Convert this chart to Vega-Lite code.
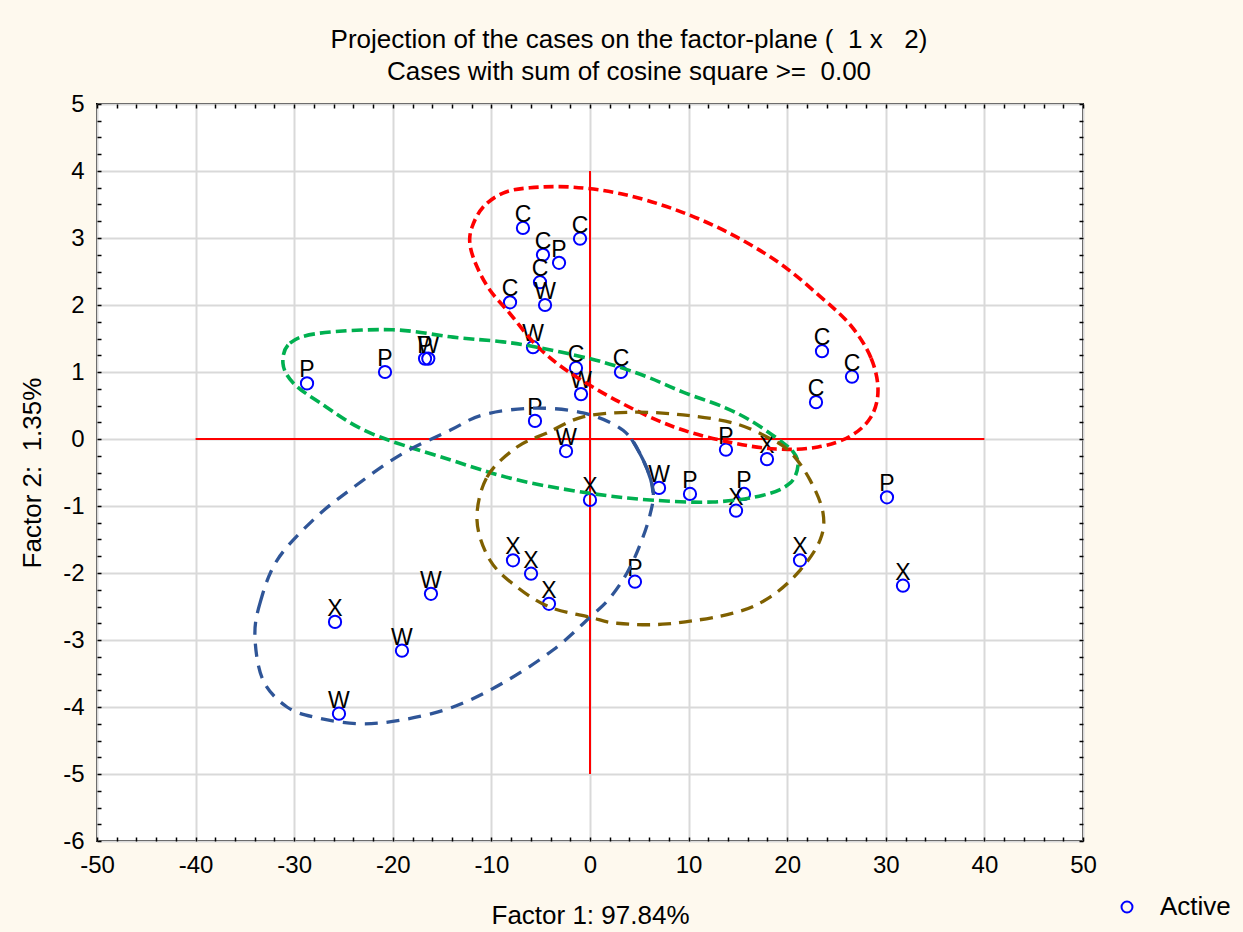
{
  "$schema": "https://vega.github.io/schema/vega-lite/v6.json",
  "width": 986,
  "height": 737,
  "autosize": "none",
  "padding": {"left": 97, "top": 104, "right": 160, "bottom": 91},
  "background": "#FEF9EE",
  "config": {
    "font": "Liberation Sans",
    "view": {"fill": "white", "stroke": "black", "strokeWidth": 2}
  },
  "title": {
    "text": ["Projection of the cases on the factor-plane (\u00a0\u00a01 x\u00a0\u00a0\u00a02)", "Cases with sum of cosine square >=\u00a0\u00a00.00"],
    "fontSize": 26,
    "fontWeight": "normal",
    "font": "Liberation Sans",
    "color": "black",
    "anchor": "middle",
    "dx": 39,
    "offset": 7,
    "lineHeight": 32
  },
  "datasets": {
    "pts": [
      {"lab": "P", "x": -28.70, "y": 0.83, "status": "Active"},
      {"lab": "P", "x": -20.79, "y": 1.00, "status": "Active"},
      {"lab": "P", "x": -16.73, "y": 1.20, "status": "Active"},
      {"lab": "W", "x": -16.40, "y": 1.20, "status": "Active"},
      {"lab": "C", "x": -6.80, "y": 3.15, "status": "Active"},
      {"lab": "C", "x": -1.01, "y": 2.99, "status": "Active"},
      {"lab": "C", "x": -4.77, "y": 2.75, "status": "Active"},
      {"lab": "P", "x": -3.14, "y": 2.63, "status": "Active"},
      {"lab": "C", "x": -5.07, "y": 2.34, "status": "Active"},
      {"lab": "C", "x": -8.11, "y": 2.04, "status": "Active"},
      {"lab": "W", "x": -4.56, "y": 2.00, "status": "Active"},
      {"lab": "W", "x": -5.78, "y": 1.37, "status": "Active"},
      {"lab": "C", "x": -1.42, "y": 1.06, "status": "Active"},
      {"lab": "W", "x": -0.91, "y": 0.67, "status": "Active"},
      {"lab": "C", "x": 3.14, "y": 1.00, "status": "Active"},
      {"lab": "P", "x": -5.58, "y": 0.27, "status": "Active"},
      {"lab": "W", "x": -2.43, "y": -0.18, "status": "Active"},
      {"lab": "X", "x": 0.00, "y": -0.91, "status": "Active"},
      {"lab": "W", "x": 7.00, "y": -0.73, "status": "Active"},
      {"lab": "P", "x": 10.14, "y": -0.82, "status": "Active"},
      {"lab": "P", "x": 13.79, "y": -0.16, "status": "Active"},
      {"lab": "X", "x": 17.95, "y": -0.30, "status": "Active"},
      {"lab": "P", "x": 15.62, "y": -0.82, "status": "Active"},
      {"lab": "X", "x": 14.81, "y": -1.07, "status": "Active"},
      {"lab": "C", "x": 23.53, "y": 1.31, "status": "Active"},
      {"lab": "C", "x": 26.57, "y": 0.93, "status": "Active"},
      {"lab": "C", "x": 22.92, "y": 0.55, "status": "Active"},
      {"lab": "P", "x": 30.12, "y": -0.87, "status": "Active"},
      {"lab": "X", "x": 21.30, "y": -1.81, "status": "Active"},
      {"lab": "X", "x": 31.74, "y": -2.19, "status": "Active"},
      {"lab": "P", "x": 4.56, "y": -2.13, "status": "Active"},
      {"lab": "X", "x": -7.81, "y": -1.81, "status": "Active"},
      {"lab": "X", "x": -5.98, "y": -2.01, "status": "Active"},
      {"lab": "X", "x": -4.16, "y": -2.46, "status": "Active"},
      {"lab": "W", "x": -16.13, "y": -2.31, "status": "Active"},
      {"lab": "X", "x": -25.86, "y": -2.73, "status": "Active"},
      {"lab": "W", "x": -19.07, "y": -3.16, "status": "Active"},
      {"lab": "W", "x": -25.46, "y": -4.10, "status": "Active"}
    ],
    "ref": [
      {"x": 0, "x2": 0, "y": -5, "y2": 4},
      {"x": -40, "x2": 40, "y": 0, "y2": 0}
    ],
    "ell": [
      {"g": "red", "i": 0, "x": 29.21, "y": 0.73},
      {"g": "red", "i": 1, "x": 28.50, "y": 1.21},
      {"g": "red", "i": 2, "x": 26.47, "y": 1.69},
      {"g": "red", "i": 3, "x": 23.33, "y": 2.13},
      {"g": "red", "i": 4, "x": 19.07, "y": 2.64},
      {"g": "red", "i": 5, "x": 13.89, "y": 3.09},
      {"g": "red", "i": 6, "x": 8.52, "y": 3.43},
      {"g": "red", "i": 7, "x": 3.14, "y": 3.66},
      {"g": "red", "i": 8, "x": -1.83, "y": 3.76},
      {"g": "red", "i": 9, "x": -6.09, "y": 3.75},
      {"g": "red", "i": 10, "x": -8.82, "y": 3.67},
      {"g": "red", "i": 11, "x": -10.85, "y": 3.46},
      {"g": "red", "i": 12, "x": -11.97, "y": 3.16},
      {"g": "red", "i": 13, "x": -12.17, "y": 2.90},
      {"g": "red", "i": 14, "x": -11.46, "y": 2.57},
      {"g": "red", "i": 15, "x": -10.14, "y": 2.22},
      {"g": "red", "i": 16, "x": -8.11, "y": 1.87},
      {"g": "red", "i": 17, "x": -5.38, "y": 1.39},
      {"g": "red", "i": 18, "x": -2.03, "y": 0.99},
      {"g": "red", "i": 19, "x": 3.14, "y": 0.54},
      {"g": "red", "i": 20, "x": 8.52, "y": 0.18},
      {"g": "red", "i": 21, "x": 13.89, "y": -0.04},
      {"g": "red", "i": 22, "x": 18.86, "y": -0.15},
      {"g": "red", "i": 23, "x": 23.12, "y": -0.12},
      {"g": "red", "i": 24, "x": 26.37, "y": 0.04},
      {"g": "red", "i": 25, "x": 28.50, "y": 0.33},
      {"g": "green", "i": 0, "x": -31.14, "y": 1.13},
      {"g": "green", "i": 1, "x": -30.43, "y": 1.43},
      {"g": "green", "i": 2, "x": -27.38, "y": 1.58},
      {"g": "green", "i": 3, "x": -19.98, "y": 1.63},
      {"g": "green", "i": 4, "x": -13.89, "y": 1.52},
      {"g": "green", "i": 5, "x": -8.82, "y": 1.45},
      {"g": "green", "i": 6, "x": -5.38, "y": 1.37},
      {"g": "green", "i": 7, "x": -0.30, "y": 1.21},
      {"g": "green", "i": 8, "x": 3.04, "y": 1.07},
      {"g": "green", "i": 9, "x": 6.09, "y": 0.91},
      {"g": "green", "i": 10, "x": 9.43, "y": 0.70},
      {"g": "green", "i": 11, "x": 13.49, "y": 0.48},
      {"g": "green", "i": 12, "x": 16.23, "y": 0.28},
      {"g": "green", "i": 13, "x": 18.97, "y": 0.01},
      {"g": "green", "i": 14, "x": 20.59, "y": -0.19},
      {"g": "green", "i": 15, "x": 21.10, "y": -0.39},
      {"g": "green", "i": 16, "x": 20.28, "y": -0.66},
      {"g": "green", "i": 17, "x": 17.55, "y": -0.84},
      {"g": "green", "i": 18, "x": 12.47, "y": -0.94},
      {"g": "green", "i": 19, "x": 6.09, "y": -0.91},
      {"g": "green", "i": 20, "x": 0.00, "y": -0.81},
      {"g": "green", "i": 21, "x": -7.40, "y": -0.61},
      {"g": "green", "i": 22, "x": -14.20, "y": -0.31},
      {"g": "green", "i": 23, "x": -22.31, "y": 0.09},
      {"g": "green", "i": 24, "x": -27.38, "y": 0.54},
      {"g": "green", "i": 25, "x": -30.12, "y": 0.84},
      {"g": "blue", "i": 0, "x": -33.98, "y": -2.96},
      {"g": "blue", "i": 1, "x": -33.47, "y": -2.45},
      {"g": "blue", "i": 2, "x": -31.74, "y": -1.81},
      {"g": "blue", "i": 3, "x": -28.09, "y": -1.21},
      {"g": "blue", "i": 4, "x": -24.34, "y": -0.76},
      {"g": "blue", "i": 5, "x": -19.27, "y": -0.24},
      {"g": "blue", "i": 6, "x": -14.20, "y": 0.13},
      {"g": "blue", "i": 7, "x": -10.85, "y": 0.36},
      {"g": "blue", "i": 8, "x": -5.78, "y": 0.46},
      {"g": "blue", "i": 9, "x": -0.71, "y": 0.39},
      {"g": "blue", "i": 10, "x": 3.35, "y": 0.13},
      {"g": "blue", "i": 11, "x": 5.38, "y": -0.31},
      {"g": "blue", "i": 12, "x": 6.39, "y": -0.76},
      {"g": "blue", "i": 13, "x": 6.09, "y": -1.13},
      {"g": "blue", "i": 14, "x": 5.07, "y": -1.58},
      {"g": "blue", "i": 15, "x": 3.75, "y": -2.00},
      {"g": "blue", "i": 16, "x": 2.03, "y": -2.37},
      {"g": "blue", "i": 17, "x": 0.00, "y": -2.66},
      {"g": "blue", "i": 18, "x": -3.75, "y": -3.15},
      {"g": "blue", "i": 19, "x": -8.82, "y": -3.64},
      {"g": "blue", "i": 20, "x": -13.89, "y": -4.00},
      {"g": "blue", "i": 21, "x": -18.97, "y": -4.19},
      {"g": "blue", "i": 22, "x": -23.33, "y": -4.25},
      {"g": "blue", "i": 23, "x": -27.69, "y": -4.16},
      {"g": "blue", "i": 24, "x": -30.73, "y": -4.00},
      {"g": "blue", "i": 25, "x": -33.16, "y": -3.60},
      {"g": "bluesolid", "i": 0, "x": 4.20, "y": 0.00},
      {"g": "bluesolid", "i": 1, "x": 5.38, "y": -0.31},
      {"g": "bluesolid", "i": 2, "x": 6.15, "y": -0.60},
      {"g": "bluesolid", "i": 3, "x": 6.39, "y": -0.80},
      {"g": "olive", "i": 0, "x": -11.46, "y": -1.21},
      {"g": "olive", "i": 1, "x": -10.45, "y": -0.57},
      {"g": "olive", "i": 2, "x": -7.40, "y": -0.12},
      {"g": "olive", "i": 3, "x": -4.36, "y": 0.09},
      {"g": "olive", "i": 4, "x": -0.71, "y": 0.33},
      {"g": "olive", "i": 5, "x": 4.36, "y": 0.40},
      {"g": "olive", "i": 6, "x": 9.43, "y": 0.36},
      {"g": "olive", "i": 7, "x": 14.50, "y": 0.24},
      {"g": "olive", "i": 8, "x": 17.95, "y": 0.03},
      {"g": "olive", "i": 9, "x": 20.28, "y": -0.19},
      {"g": "olive", "i": 10, "x": 22.31, "y": -0.61},
      {"g": "olive", "i": 11, "x": 23.63, "y": -1.10},
      {"g": "olive", "i": 12, "x": 23.33, "y": -1.51},
      {"g": "olive", "i": 13, "x": 21.30, "y": -1.96},
      {"g": "olive", "i": 14, "x": 18.26, "y": -2.36},
      {"g": "olive", "i": 15, "x": 14.50, "y": -2.60},
      {"g": "olive", "i": 16, "x": 7.81, "y": -2.76},
      {"g": "olive", "i": 17, "x": 2.74, "y": -2.75},
      {"g": "olive", "i": 18, "x": 0.00, "y": -2.66},
      {"g": "olive", "i": 19, "x": -4.06, "y": -2.51},
      {"g": "olive", "i": 20, "x": -7.40, "y": -2.21},
      {"g": "olive", "i": 21, "x": -10.14, "y": -1.81}
    ]
  },
  "resolve": {"axis": {"x": "independent", "y": "independent"}},
  "layer": [
    {
      "data": {"name": "ref"},
      "mark": {"type": "rule", "color": "#FF0000", "strokeWidth": 2},
      "encoding": {
        "x": {"field": "x", "type": "quantitative", "scale": {"domain": [-50, 50], "nice": false, "zero": false},
          "axis": {"orient": "top", "values": [-50,-48,-46,-44,-42,-40,-38,-36,-34,-32,-30,-28,-26,-24,-22,-20,-18,-16,-14,-12,-10,-8,-6,-4,-2,0,2,4,6,8,10,12,14,16,18,20,22,24,26,28,30,32,34,36,38,40,42,44,46,48,50],
            "labels": false, "grid": false, "domain": false, "tickSize": -4, "tickColor": "black", "tickWidth": 1.5, "title": null}},
        "x2": {"field": "x2"},
        "y": {"field": "y", "type": "quantitative", "scale": {"domain": [-6, 5], "nice": false, "zero": false},
          "axis": {"orient": "right", "values": [-6,-5.75,-5.5,-5.25,-5,-4.75,-4.5,-4.25,-4,-3.75,-3.5,-3.25,-3,-2.75,-2.5,-2.25,-2,-1.75,-1.5,-1.25,-1,-0.75,-0.5,-0.25,0,0.25,0.5,0.75,1,1.25,1.5,1.75,2,2.25,2.5,2.75,3,3.25,3.5,3.75,4,4.25,4.5,4.75,5],
            "labels": false, "grid": false, "domain": false, "tickSize": -4, "tickColor": "black", "tickWidth": 1.5, "title": null}},
        "y2": {"field": "y2"}
      }
    },
    {
      "data": {"name": "pts"},
      "mark": {"type": "point", "shape": "circle", "filled": false, "size": 150, "strokeWidth": 2, "opacity": 1},
      "encoding": {
        "x": {"field": "x", "type": "quantitative", "scale": {"domain": [-50, 50], "nice": false, "zero": false},
          "axis": {"orient": "bottom", "values": [-50,-48,-46,-44,-42,-40,-38,-36,-34,-32,-30,-28,-26,-24,-22,-20,-18,-16,-14,-12,-10,-8,-6,-4,-2,0,2,4,6,8,10,12,14,16,18,20,22,24,26,28,30,32,34,36,38,40,42,44,46,48,50],
            "labelExpr": "datum.value % 10 === 0 ? '' + datum.value : ''", "labelOverlap": false, "labelFlush": false,
            "labelFontSize": 24, "labelColor": "black", "labelPadding": 16,
            "grid": true, "gridColor": "#D9D9D9", "gridWidth": 2,
            "gridOpacity": {"condition": {"test": "datum.value % 10 === 0", "value": 1}, "value": 0},
            "domain": false, "tickSize": -4, "tickColor": "black", "tickWidth": 1.5,
            "title": "Factor 1: 97.84%", "titleFontSize": 26, "titleFontWeight": "normal", "titleColor": "black", "titlePadding": 25}},
        "y": {"field": "y", "type": "quantitative", "scale": {"domain": [-6, 5], "nice": false, "zero": false},
          "axis": {"orient": "left", "values": [-6,-5.75,-5.5,-5.25,-5,-4.75,-4.5,-4.25,-4,-3.75,-3.5,-3.25,-3,-2.75,-2.5,-2.25,-2,-1.75,-1.5,-1.25,-1,-0.75,-0.5,-0.25,0,0.25,0.5,0.75,1,1.25,1.5,1.75,2,2.25,2.5,2.75,3,3.25,3.5,3.75,4,4.25,4.5,4.75,5],
            "labelExpr": "datum.value % 1 === 0 ? '' + datum.value : ''", "labelOverlap": false, "labelFlush": false,
            "labelFontSize": 24, "labelColor": "black", "labelPadding": 17,
            "grid": true, "gridColor": "#D9D9D9", "gridWidth": 2,
            "gridOpacity": {"condition": {"test": "datum.value % 1 === 0", "value": 1}, "value": 0},
            "domain": false, "tickSize": -4, "tickColor": "black", "tickWidth": 1.5,
            "title": "Factor 2:\u00a0\u00a01.35%", "titleFontSize": 26, "titleFontWeight": "normal", "titleColor": "black", "titlePadding": 17}},
        "color": {"field": "status", "type": "nominal", "scale": {"range": ["#0000FF"]},
          "legend": {"orient": "none", "legendX": 1017, "legendY": 790, "title": null, "labelFontSize": 26, "labelColor": "black",
            "symbolType": "circle", "symbolSize": 120, "symbolStrokeWidth": 2, "labelOffset": 20, "symbolFillColor": "transparent", "symbolOpacity": 1}}
      }
    },
    {
      "data": {"name": "pts"},
      "mark": {"type": "text", "fontSize": 23, "color": "black", "baseline": "alphabetic", "align": "center", "dy": -6},
      "encoding": {
        "x": {"field": "x", "type": "quantitative", "axis": null},
        "y": {"field": "y", "type": "quantitative", "axis": null},
        "text": {"field": "lab"}
      }
    },
    {
      "data": {"name": "ell"},
      "transform": [{"filter": "datum.g === 'red'"}],
      "mark": {"type": "line", "interpolate": "cardinal-closed", "color": "#FF0000", "strokeWidth": 3.6, "strokeDash": [10, 5]},
      "encoding": {
        "x": {"field": "x", "type": "quantitative", "axis": null},
        "y": {"field": "y", "type": "quantitative", "axis": null},
        "order": {"field": "i", "type": "quantitative"}
      }
    },
    {
      "data": {"name": "ell"},
      "transform": [{"filter": "datum.g === 'green'"}],
      "mark": {"type": "line", "interpolate": "cardinal-closed", "color": "#00B050", "strokeWidth": 3.6, "strokeDash": [11, 5]},
      "encoding": {
        "x": {"field": "x", "type": "quantitative", "axis": null},
        "y": {"field": "y", "type": "quantitative", "axis": null},
        "order": {"field": "i", "type": "quantitative"}
      }
    },
    {
      "data": {"name": "ell"},
      "transform": [{"filter": "datum.g === 'blue'"}],
      "mark": {"type": "line", "interpolate": "cardinal-closed", "color": "#2F5597", "strokeWidth": 3.3, "strokeDash": [13, 9]},
      "encoding": {
        "x": {"field": "x", "type": "quantitative", "axis": null},
        "y": {"field": "y", "type": "quantitative", "axis": null},
        "order": {"field": "i", "type": "quantitative"}
      }
    },
    {
      "data": {"name": "ell"},
      "transform": [{"filter": "datum.g === 'bluesolid'"}],
      "mark": {"type": "line", "interpolate": "cardinal", "color": "#2F5597", "strokeWidth": 3.3},
      "encoding": {
        "x": {"field": "x", "type": "quantitative", "axis": null},
        "y": {"field": "y", "type": "quantitative", "axis": null},
        "order": {"field": "i", "type": "quantitative"}
      }
    },
    {
      "data": {"name": "ell"},
      "transform": [{"filter": "datum.g === 'olive'"}],
      "mark": {"type": "line", "interpolate": "cardinal-closed", "color": "#7F6000", "strokeWidth": 3.3, "strokeDash": [13, 8]},
      "encoding": {
        "x": {"field": "x", "type": "quantitative", "axis": null},
        "y": {"field": "y", "type": "quantitative", "axis": null},
        "order": {"field": "i", "type": "quantitative"}
      }
    }
  ]
}
